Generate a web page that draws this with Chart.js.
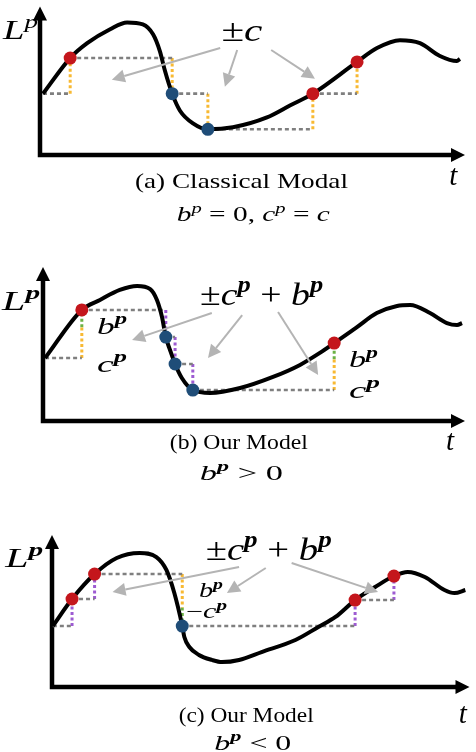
<!DOCTYPE html>
<html>
<head>
<meta charset="utf-8">
<script src="https://cdn.jsdelivr.net/npm/chart.js@4.4.1/dist/chart.umd.min.js"></script>
<style>
  html, body { margin: 0; padding: 0; background: #fff; }
  body { width: 476px; height: 752px; position: relative; overflow: hidden; }
  .panel { position: absolute; left: 0; width: 476px; }
</style>
</head>
<body>
<div class="panel" style="top:0;height:240px"><canvas id="panelA" width="476" height="240"></canvas></div>
<div class="panel" style="top:240px;height:260px"><canvas id="panelB" width="476" height="260"></canvas></div>
<div class="panel" style="top:500px;height:252px"><canvas id="panelC" width="476" height="252"></canvas></div>
<script>
// Every panel uses t in 0..100 and L^p in 0..100 (arrow tip = 100)

// (a) Classical Modal
const curveA_t = [0.7, 7.1, 11.1, 16.5, 20.5, 24.2, 26.6, 28.2, 29.4, 31.1, 32.9, 36.0, 39.5, 45.4, 53.4, 58.8, 64.2, 74.6, 79.3, 84.7, 89.4, 94.1, 98.1, 98.8];
const curveA_L = [41.3, 65.3, 75.3, 84.7, 89.3, 88.0, 81.3, 70.0, 56.7, 41.3, 30.0, 21.3, 17.3, 18.7, 25.3, 33.3, 41.3, 62.7, 72.0, 77.3, 75.3, 66.7, 63.3, 64.7];
const redA_t = [7.1, 64.2, 74.6];
const redA_L = [65.3, 41.3, 62.7];
const blueA_t = [31.1, 39.5];
const blueA_L = [41.3, 17.3];

// (b) Our Model, b^p > 0
const curveB_t = [0.5, 9.2, 13.5, 18.2, 22.3, 25.4, 27.0, 28.2, 29.1, 30.1, 31.3, 32.9, 35.5, 39.6, 46.7, 54.5, 60.9, 65.6, 69.0, 74.4, 79.1, 83.9, 87.0, 91.7, 95.7, 98.1, 99.3];
const curveB_L = [40.9, 72.1, 78.6, 85.1, 87.7, 85.7, 78.6, 67.5, 54.5, 46.1, 37.0, 27.9, 20.1, 18.2, 21.4, 28.6, 36.4, 44.2, 50.6, 61.0, 70.1, 74.7, 75.3, 70.1, 63.6, 62.3, 63.6];
const redB_t = [9.2, 69.0];
const redB_L = [72.1, 50.6];
const blueB_t = [29.1, 31.3, 35.5];
const blueB_L = [54.5, 37.0, 20.1];

// (c) Our Model, b^p < 0
const curveC_t = [0.2, 4.8, 10.2, 15.5, 21.0, 25.0, 27.4, 29.3, 31.2, 31.7, 32.9, 35.2, 38.3, 40.7, 44.8, 50.2, 58.3, 63.8, 67.9, 72.6, 77.4, 81.9, 85.2, 89.3, 94.0, 96.4, 99.0];
const curveC_L = [40.1, 57.9, 74.3, 84.9, 88.2, 85.5, 77.0, 61.8, 40.1, 32.9, 26.3, 21.1, 17.8, 16.4, 17.8, 23.0, 30.9, 39.5, 46.1, 57.2, 65.8, 73.0, 75.7, 72.4, 63.8, 61.8, 63.8];
const redC_t = [4.8, 10.2, 72.6, 81.9];
const redC_L = [57.9, 74.3, 57.2, 73.0];
const blueC_t = [31.2];
const blueC_L = [40.1];

// drawn length of the c^p part and sign of b^p
const cA = 24, cB = 20, cC = 22;
const bA = 0, bB = 1, bC = -1;

const RED = '#c4161c', BLUE = '#1f4d78', GRAY = '#7f7f7f';
const YELLOW = '#f8b932', GREEN = '#6bb144', PURPLE = '#9d5bd2', ARROW = '#b4b4b4';

const zip = (xs, ys) => xs.map((x, i) => ({ x: x, y: ys[i] }));

function seg(p0, p1, color, width, dash) {
  return {
    data: [{ x: p0[0], y: p0[1] }, { x: p1[0], y: p1[1] }],
    borderColor: color, borderWidth: width, borderDash: dash,
    pointRadius: 0, tension: 0, order: 2, clip: false
  };
}

// gray horizontal to the next point, then the vertical jump to its level
function stepDatasets(keys, c, b) {
  const out = [];
  for (let i = 0; i < keys.length - 1; i++) {
    const [x0, y0] = keys[i], [x1, y1] = keys[i + 1];
    out.push(seg([x0, y0], [x1, y0], GRAY, 2.6, [4, 3]));
    const dy = y1 - y0;
    if (b === 0) {
      out.push(seg([x1, y0], [x1, y1], YELLOW, 3, [3, 2.5]));
    } else if (Math.sign(dy) === Math.sign(b)) {
      const ym = y0 + Math.sign(dy) * c;
      out.push(seg([x1, y0], [x1, ym], YELLOW, 3, [3, 2.5]));
      out.push(seg([x1, ym], [x1, y1], GREEN, 3, [3, 2.5]));
    } else {
      out.push(seg([x1, y0], [x1, y1], PURPLE, 3, [3, 2.5]));
    }
  }
  return out;
}

// runs: [text, style]  r = roman, i = italic, s = italic sup, S = bold italic sup
function drawRuns(ctx, runs, x, y, size, w, align) {
  const parts = runs.map(([txt, st]) => {
    const sup = st === 's' || st === 'S';
    const fs = sup ? size * 0.7 : size;
    const font = (st === 'r' ? '' : st === 'S' ? 'italic bold ' : 'italic ') + fs + 'px "Liberation Serif"';
    ctx.font = font;
    return { txt: txt, font: font, dy: sup ? -size * 0.4 : 0, adv: ctx.measureText(txt).width };
  });
  const natural = parts.reduce((s, p) => s + p.adv, 0);
  const sx = w ? w / natural : 1;
  ctx.save();
  ctx.translate(x, y);
  ctx.scale(sx, 1);
  ctx.fillStyle = '#000';
  ctx.textAlign = 'left';
  ctx.textBaseline = 'alphabetic';
  let cx = align === 'center' ? -natural / 2 : 0;
  parts.forEach(p => {
    ctx.font = p.font;
    ctx.fillText(p.txt, cx, p.dy);
    cx += p.adv;
  });
  ctx.restore();
}

function drawArrow(ctx, x1, y1, x2, y2, color, width, hl, hw) {
  const a = Math.atan2(y2 - y1, x2 - x1);
  const bx = x2 - hl * Math.cos(a), by = y2 - hl * Math.sin(a);
  ctx.save();
  ctx.strokeStyle = color;
  ctx.fillStyle = color;
  ctx.lineWidth = width;
  ctx.beginPath();
  ctx.moveTo(x1, y1);
  ctx.lineTo(bx, by);
  ctx.stroke();
  ctx.beginPath();
  ctx.moveTo(x2, y2);
  ctx.lineTo(bx + hw * Math.sin(a), by - hw * Math.cos(a));
  ctx.lineTo(bx - hw * Math.sin(a), by + hw * Math.cos(a));
  ctx.closePath();
  ctx.fill();
  ctx.restore();
}

const diagramPlugin = {
  id: 'diagram',
  beforeDatasetsDraw(chart, args, opts) {
    // thick black axes with arrow heads
    const { ctx, scales: { x, y } } = chart;
    const x0 = x.getPixelForValue(0), y0 = y.getPixelForValue(0);
    const xr = x.getPixelForValue(100), yt = y.getPixelForValue(100);
    ctx.save();
    ctx.strokeStyle = '#000';
    ctx.lineWidth = 4.5;
    ctx.beginPath();
    ctx.moveTo(x0, yt + 10);
    ctx.lineTo(x0, y0);
    ctx.lineTo(xr - 10, y0);
    ctx.stroke();
    ctx.restore();
    drawArrow(ctx, x0, yt + 12, x0, yt, '#000', 4.5, 14, 7);
    drawArrow(ctx, xr - 12, y0, xr, y0, '#000', 4.5, 14, 7);
  },
  afterDatasetsDraw(chart, args, opts) {
    const { ctx, scales: { x, y } } = chart;
    opts.arrows.forEach(a => drawArrow(ctx,
      x.getPixelForValue(a[0]), y.getPixelForValue(a[1]),
      x.getPixelForValue(a[2]), y.getPixelForValue(a[3]), ARROW, 2, 13, 6.5));
    opts.labels.forEach(l => drawRuns(ctx, l.runs,
      x.getPixelForValue(l.x), y.getPixelForValue(l.y), l.size, l.w, l.align));
  }
};

const L_P = [['L', 'i'], ['p', 'S']];
const PM = [['±', 'r'], ['c', 'i'], ['p', 'S'], [' + ', 'r'], ['b', 'i'], ['p', 'S']];
const T = [['t', 'i']];

const panels = [
  {
    id: 'panelA', curveT: curveA_t, curveL: curveA_L,
    redT: redA_t, redL: redA_L, blueT: blueA_t, blueL: blueA_L, c: cA, b: bA,
    pad: { left: 40, top: 5, right: 11, bottom: 85 },
    arrows: [[42.4, 72, 16.9, 50.7], [46.4, 70.7, 43.5, 46], [54.4, 70.7, 64.7, 51.3]],
    labels: [
      { runs: [['L', 'i'], ['p', 's']], x: -8.7, y: 78, size: 27, w: 35 },
      { runs: [['±', 'r'], ['c', 'i']], x: 47.5, y: 76.7, size: 32, w: 41, align: 'center' },
      { runs: T, x: 96.3, y: -20, size: 29 },
      { runs: [['(a) Classical Modal', 'r']], x: 47.4, y: -22, size: 21, w: 213, align: 'center' },
      { runs: [['b', 'i'], ['p', 's'], [' = 0, ', 'r'], ['c', 'i'], ['p', 's'], [' = ', 'r'], ['c', 'i']],
        x: 50.2, y: -44.7, size: 22, w: 153, align: 'center' }
    ]
  },
  {
    id: 'panelB', curveT: curveB_t, curveL: curveB_L,
    redT: redB_t, redL: redB_L, blueT: blueB_t, blueL: blueB_L, c: cB, b: bB,
    pad: { left: 43, top: 27, right: 11, bottom: 79 },
    arrows: [[40, 70.1, 21.1, 52.6], [47.2, 68.8, 39.1, 40.9], [55.7, 70.8, 65.2, 29.9]],
    labels: [
      { runs: L_P, x: -9.7, y: 72.1, size: 27, w: 38 },
      { runs: PM, x: 51.8, y: 75.3, size: 32, w: 123, align: 'center' },
      { runs: [['b', 'i'], ['p', 'S']], x: 12.8, y: 56.5, size: 24, w: 30 },
      { runs: [['c', 'i'], ['p', 'S']], x: 12.8, y: 31.8, size: 24, w: 30 },
      { runs: [['b', 'i'], ['p', 'S']], x: 72.5, y: 35, size: 24, w: 29 },
      { runs: [['c', 'i'], ['p', 'S']], x: 72.5, y: 14.9, size: 24, w: 31 },
      { runs: T, x: 95.5, y: -18.8, size: 29 },
      { runs: [['(b) Our Model', 'r']], x: 46.4, y: -18.2, size: 21, w: 138, align: 'center' },
      { runs: [['b', 'i'], ['p', 'S'], [' > 0', 'r']], x: 47, y: -38.3, size: 22, w: 83, align: 'center' }
    ]
  },
  {
    id: 'panelC', curveT: curveC_t, curveL: curveC_L,
    redT: redC_t, redL: redC_L, blueT: blueC_t, blueL: blueC_L, c: cC, b: bC,
    pad: { left: 52, top: 35, right: 4, bottom: 65 },
    arrows: [[44.8, 78.9, 14.5, 62.5], [51.2, 78.3, 41.9, 61.8], [57.4, 81.6, 78.1, 62.5]],
    labels: [
      { runs: L_P, x: -11.2, y: 79, size: 27, w: 38 },
      { runs: PM, x: 51.9, y: 83.6, size: 32, w: 126, align: 'center' },
      { runs: [['b', 'i'], ['p', 'S']], x: 35.2, y: 59.2, size: 20, w: 24 },
      { runs: [['−', 'r'], ['c', 'i'], ['p', 'S']], x: 32.1, y: 45.4, size: 20, w: 41 },
      { runs: T, x: 97.4, y: -23.7, size: 29 },
      { runs: [['(c) Our Model', 'r']], x: 46.5, y: -23, size: 21, w: 135, align: 'center' },
      { runs: [['b', 'i'], ['p', 'S'], [' < 0', 'r']], x: 48.1, y: -41.4, size: 22, w: 77, align: 'center' }
    ]
  }
];

panels.forEach(p => {
  const dots = zip(p.redT, p.redL).concat(zip(p.blueT, p.blueL)).sort((a, b) => a.x - b.x);
  const keys = [[p.curveT[0], p.curveL[0]]].concat(dots.map(d => [d.x, d.y]));
  const datasets = [
    { data: zip(p.redT, p.redL), showLine: false, pointRadius: 6.5, pointBackgroundColor: RED,
      pointBorderWidth: 0, order: 0, clip: false },
    { data: zip(p.blueT, p.blueL), showLine: false, pointRadius: 6.5, pointBackgroundColor: BLUE,
      pointBorderWidth: 0, order: 0, clip: false },
    { data: zip(p.curveT, p.curveL), borderColor: '#000', borderWidth: 4, pointRadius: 0,
      cubicInterpolationMode: 'monotone', order: 1, clip: false }
  ].concat(stepDatasets(keys, p.c, p.b));

  new Chart(document.getElementById(p.id), {
    type: 'line',
    data: { datasets: datasets },
    options: {
      responsive: false,
      animation: false,
      events: [],
      layout: { padding: p.pad },
      plugins: {
        legend: { display: false },
        tooltip: { enabled: false },
        diagram: { arrows: p.arrows, labels: p.labels }
      },
      scales: {
        x: { type: 'linear', min: 0, max: 100, display: false },
        y: { type: 'linear', min: 0, max: 100, display: false }
      }
    },
    plugins: [diagramPlugin]
  });
});
</script>
</body>
</html>
